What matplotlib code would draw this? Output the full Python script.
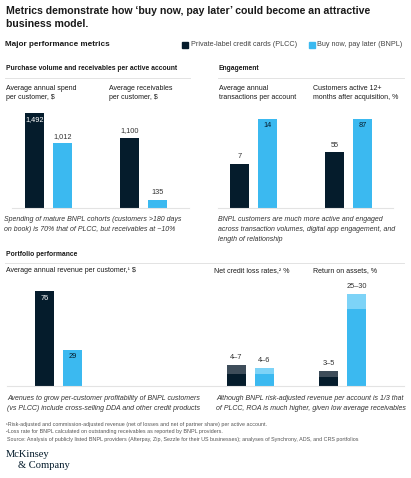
"""McKinsey BNPL vs PLCC performance metrics chart."""
import matplotlib
matplotlib.use("Agg")
import matplotlib.pyplot as plt
from matplotlib.lines import Line2D

W, H = 411, 478
DARK = "#051C2C"
DARK_RANGE = "#3E4D5A"
BLUE = "#3BB9F0"
BLUE_RANGE = "#7DD3F7"
RULE = "#E3E3E3"
TEXT = "#1A1A1A"

plt.rcParams["font.family"] = ["Liberation Sans", "DejaVu Sans"]

# data
spend = [1492, 1012]
receivables = [1100, 135]
transactions = [7, 14]
active_pct = [55, 87]
revenue = [76, 29]
ncl_low = [4, 4]
ncl_high = [7, 6]
roa_low = [3, 25]
roa_high = [5, 30]

fig = plt.figure(figsize=(W / 100, H / 100), dpi=100)


def fx(px):
    return px / W


def fy(py):
    return 1 - py / H


def txt(x, y, s, **kw):
    kw.setdefault("color", TEXT)
    kw.setdefault("va", "center")
    fig.text(fx(x), fy(y), s, **kw)


def hline(x0, x1, y, color=RULE, lw=0.7):
    fig.add_artist(Line2D([fx(x0), fx(x1)], [fy(y), fy(y)], color=color,
                          linewidth=lw, transform=fig.transFigure))


def bar_axes(center0, baseline, ymax, ymax_px):
    """Axes with two bars at x=0,1 spaced 28 px apart, 19 px wide."""
    left = center0 - 14
    ax = fig.add_axes([fx(left), fy(baseline), fx(56), ymax_px / H])
    ax.set_xlim(-0.5, 1.5)
    ax.set_ylim(0, ymax)
    ax.axis("off")
    return ax


def simple_pair(ax, vals, inside, fmt):
    ymax = ax.get_ylim()[1]
    for i, (v, c) in enumerate(zip(vals, [DARK, BLUE])):
        ax.bar(i, v, width=19 / 28, color=c)
        s = fmt(v)
        if inside[i]:
            tc = "white" if c == DARK else DARK
            ax.text(i, v - ymax * 0.075, s, ha="center", va="center",
                    fontsize=5.3, color=tc)
        else:
            ax.text(i, v + ymax * 0.075, s, ha="center", va="center",
                    fontsize=5.3, color="#333333")


def range_pair(ax, lows, highs):
    ymax = ax.get_ylim()[1]
    for i, (lo, hi) in enumerate(zip(lows, highs)):
        base_c, top_c = (DARK, DARK_RANGE) if i == 0 else (BLUE, BLUE_RANGE)
        ax.bar(i, lo, width=19 / 28, color=base_c)
        ax.bar(i, hi - lo, bottom=lo, width=19 / 28, color=top_c)
        ax.text(i, hi + ymax * 0.08, f"{lo}\u2013{hi}", ha="center",
                va="center", fontsize=5.3, color="#333333")


# title and header
txt(6, 11, "Metrics demonstrate how \u2018buy now, pay later\u2019 could become an attractive",
    fontsize=7.6, fontweight="bold")
txt(6, 24, "business model.", fontsize=7.6, fontweight="bold")
txt(5, 45, "Major performance metrics", fontsize=5.9, fontweight="bold")

fig.add_artist(plt.Rectangle((fx(182), fy(48)), fx(6), 6 / H, color=DARK,
                             transform=fig.transFigure))
txt(190.5, 45, "Private-label credit cards (PLCC)", fontsize=5.2, color="#444444")
fig.add_artist(plt.Rectangle((fx(309), fy(48)), fx(6), 6 / H, color=BLUE,
                             transform=fig.transFigure))
txt(316.5, 45, "Buy now, pay later (BNPL)", fontsize=5.2, color="#444444")

# section 1
txt(5.5, 69, "Purchase volume and receivables per active account", fontsize=4.9,
    fontweight="bold")
hline(5, 190, 77.5)
txt(218, 69, "Engagement", fontsize=4.9, fontweight="bold")
hline(218, 404, 77.5)

txt(5.5, 88, "Average annual spend", fontsize=5)
txt(5.5, 97.5, "per customer, $", fontsize=5)
txt(108.5, 88, "Average receivables", fontsize=5)
txt(108.5, 97.5, "per customer, $", fontsize=5)
txt(219, 88, "Average annual", fontsize=5)
txt(219, 97.5, "transactions per account", fontsize=5)
txt(313, 88, "Customers active 12+", fontsize=5)
txt(313, 97.5, "months after acquisition, %", fontsize=5)

top_base = 208.3
ax = bar_axes(34.7, top_base, 1492, 95.6)
simple_pair(ax, spend, [True, False], lambda v: f"{v:,}")
ax = bar_axes(129.5, top_base, 1492, 95.6)
simple_pair(ax, receivables, [False, False], lambda v: f"{v:,}")
ax = bar_axes(239.7, top_base, 14, 89.3)
simple_pair(ax, transactions, [False, True], lambda v: f"{v}")
ax = bar_axes(334.5, top_base, 87, 89.3)
simple_pair(ax, active_pct, [False, True], lambda v: f"{v}")
hline(12, 189, top_base, lw=0.8)
hline(218, 393, top_base, lw=0.8)

note = dict(fontsize=5, style="italic", color="#333333")
txt(4, 219.5, "Spending of mature BNPL cohorts (customers >180 days", **note)
txt(4, 229.5, "on book) is 70% that of PLCC, but receivables at ~10%", **note)
txt(218, 219.5, "BNPL customers are much more active and engaged", **note)
txt(218, 229.5, "across transaction volumes, digital app engagement, and", **note)
txt(218, 239.5, "length of relationship", **note)

# section 2
txt(5.5, 255, "Portfolio performance", fontsize=4.9, fontweight="bold")
hline(5, 404, 263)
txt(5.5, 270.5, "Average annual revenue per customer,\u00b9 $", fontsize=5)
txt(214, 270.5, "Net credit loss rates,\u00b2 %", fontsize=5)
txt(313, 270.5, "Return on assets, %", fontsize=5)

bot_base = 386
ax = bar_axes(44.7, bot_base, 76, 95)
simple_pair(ax, revenue, [True, True], lambda v: f"{v}")
ax = bar_axes(236.2, bot_base, 30, 92)
range_pair(ax, ncl_low, ncl_high)
ax = bar_axes(328.8, bot_base, 30, 92)
range_pair(ax, roa_low, roa_high)
hline(7, 404, bot_base, lw=0.8)

txt(7, 399, "Avenues to grow per-customer profitability of BNPL customers", **note)
txt(7, 408.5, "(vs PLCC) include cross-selling DDA and other credit products", **note)
txt(216, 399, "Although BNPL risk-adjusted revenue per account is 1/3 that", **note)
txt(216, 408.5, "of PLCC, ROA is much higher, given low average receivables", **note)

foot = dict(fontsize=3.9, color="#555555")
txt(6, 424.5, "\u00b9Risk-adjusted and commission-adjusted revenue (net of losses and net of "
    "partner share) per active account.", **foot)
txt(6, 432, "\u00b2Loss rate for BNPL calculated on outstanding receivables as reported "
    "by BNPL providers.", **foot)
txt(7, 439.5, "Source: Analysis of publicly listed BNPL providers (Afterpay, Zip, Sezzle "
    "for their US businesses); analyses of Synchrony, ADS, and CRS portfolios", **foot)

logo = dict(fontsize=7.6, family=["Liberation Serif", "DejaVu Serif"], color=DARK)
txt(5.5, 454.5, "McKinsey", **logo)
txt(18, 466, "& Company", **logo)

fig.savefig("out.png", dpi=100)
